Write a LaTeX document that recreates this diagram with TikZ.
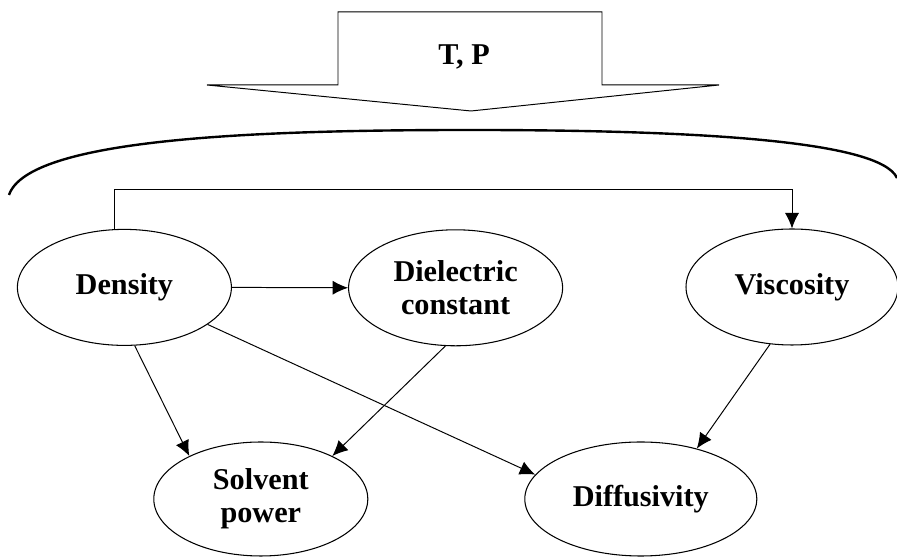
\documentclass[tikz,border=0pt]{standalone}
\usepackage{fontspec}
\setmainfont{Liberation Serif}
\usetikzlibrary{arrows.meta,shapes}

\tikzset{
  prop/.style={ellipse,draw=black,line width=0.75pt,minimum width=5.35cm,
    minimum height=2.9cm,inner sep=0pt,align=center,
    font=\bfseries\fontsize{21.5}{23.5}\selectfont},
  link/.style={line width=0.7pt,-{Latex[length=11pt,width=10pt]}}
}

\begin{document}
\begin{tikzpicture}
            \useasboundingbox (0,0) rectangle (22.425,13.925);
            % T,P input arrow
            \filldraw[fill=white,draw=black,line width=0.7pt] (8.45,13.625) 
            -- (15.05,13.625) -- (15.05,11.8) -- (17.975,11.8) -- (11.775,11.15) 
            -- (5.175,11.8) -- (8.45,11.8) -- cycle;
            \node[font=\bfseries\fontsize{21.5}{23.5}\selectfont] (tp) at (11.6,12.5) {T, P};
            % brace over the properties
            \draw[line width=1.7pt] (0.225,9.05) .. controls (0.7,10.45) and (6.25,10.675) 
            .. (11.75,10.675) .. controls (17.25,10.675) and (22,10.425) .. (22.425,9.475);
            % properties
            \node[prop] (density) at (3.11,6.74) {Density};
            \node[prop] (dielectric) at (11.39,6.73) {Dielectric\\constant};
            \node[prop,minimum width=5.3cm] (viscosity) at (19.8,6.75) {Viscosity};
            \node[prop,minimum height=2.85cm] (solvent) at (6.52,1.45) {Solvent\\power};
            \node[prop,minimum width=5.8cm,minimum height=2.85cm] (diffusivity) at (16.02,1.45) {Diffusivity};
            \coordinate (rail) at (0,9.175);
            % links
            \draw[link] (density.100) -- (density.100 |- rail) -| (viscosity.north);
            \draw[link] (density.east) -- (dielectric.west);
            \draw[link] (density.-80) -- (solvent.149);
            \draw[link] (density.-24) -- (diffusivity.167);
            \draw[link] (dielectric.-100) -- (solvent.31);
            \draw[link] (viscosity.-111) -- (diffusivity.42);
      \end{tikzpicture}
\end{document}
